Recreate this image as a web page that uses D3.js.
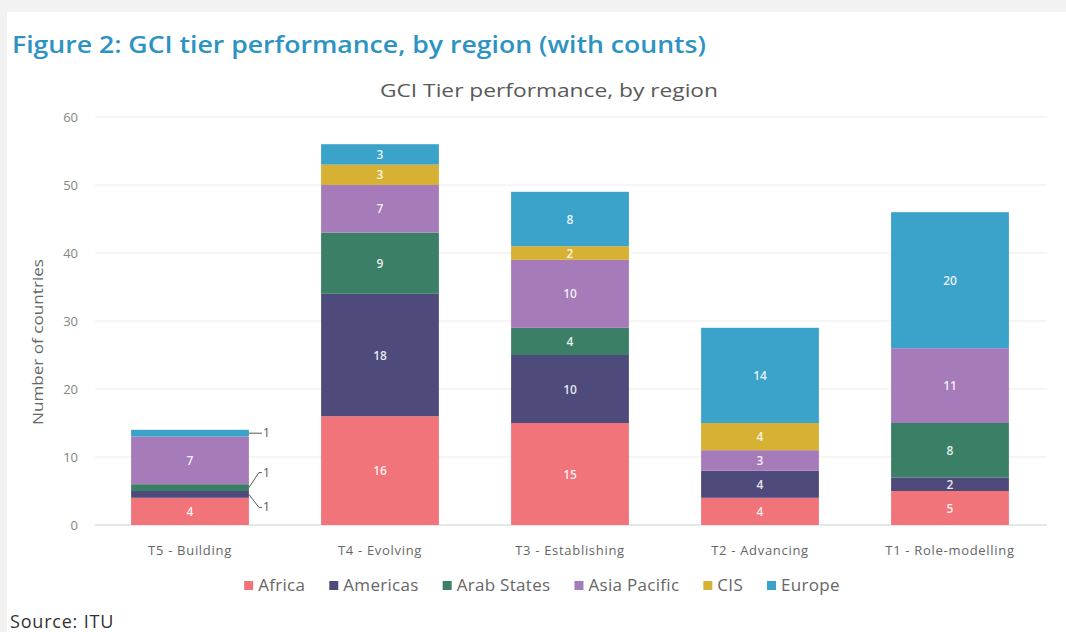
<!DOCTYPE html>
<html>
<head>
<meta charset="utf-8">
<script src="https://cdn.jsdelivr.net/npm/d3@7"></script>
<style>
  body { margin:0; background:#f2f2f2; }
  svg { display:block; font-family: "Open Sans", sans-serif; }
</style>
</head>
<body>
<div id="graph"></div>
<script>
// data
var tiers = ["T5 - Building", "T4 - Evolving", "T3 - Establishing", "T2 - Advancing", "T1 - Role-modelling"];
var regions = ["Africa", "Americas", "Arab States", "Asia Pacific", "CIS", "Europe"];
var africa = [4, 16, 15, 4, 5];
var americas = [1, 18, 10, 4, 2];
var arabStates = [1, 9, 4, 0, 8];
var asiaPacific = [7, 7, 10, 3, 11];
var cis = [0, 3, 2, 4, 0];
var europe = [1, 3, 8, 14, 20];
var yTicks = [0, 10, 20, 30, 40, 50, 60];
var colors = ["#f07479", "#4e4b7c", "#3b7f66", "#a67bb9", "#d6b134", "#3ba2ca"];

var width = 1066, height = 632;
var pLeft = 95, pRight = 1045, pTop = 117, pBottom = 525;

var svg = d3.select("#graph").append("svg").attr("width", width).attr("height", height);
svg.append("rect").attr("x", 7).attr("y", 12).attr("width", width - 7).attr("height", height - 12).attr("fill", "#fff");

// build table
var series = [africa, americas, arabStates, asiaPacific, cis, europe];
var table = tiers.map(function(t, i) {
  var row = { tier: t };
  regions.forEach(function(r, j) { row[r] = series[j][i]; });
  return row;
});
var stacked = d3.stack().keys(regions)(table);

var x = d3.scaleBand().domain(tiers).range([pLeft, pRight]).paddingInner(0.38).paddingOuter(0.19);
var y = d3.scaleLinear().domain([0, 60]).range([pBottom, pTop]);

// titles
svg.append("text").attr("x", 12).attr("y", 53).text("Figure 2: GCI tier performance, by region (with counts)")
  .attr("font-size", 24).attr("font-weight", 600).attr("fill", "#2c93c3")
  .attr("textLength", 694).attr("lengthAdjust", "spacingAndGlyphs");
svg.append("text").attr("x", 549).attr("y", 97).attr("text-anchor", "middle")
  .text("GCI Tier performance, by region").attr("font-size", 19).attr("fill", "#595959")
  .attr("textLength", 338).attr("lengthAdjust", "spacingAndGlyphs");

// grid
svg.append("g").selectAll("line").data(yTicks).enter().append("line")
  .attr("x1", pLeft).attr("x2", pRight + 2)
  .attr("y1", function(d){ return y(d); }).attr("y2", function(d){ return y(d); })
  .attr("stroke", function(d){ return d == 0 ? "#cfcfcf" : "#ececec"; }).attr("stroke-width", 1);

// y axis
var yAxis = d3.axisLeft(y).tickValues(yTicks).tickSize(0).tickPadding(0);
var gy = svg.append("g").attr("transform", "translate(78,0)").call(yAxis);
gy.select(".domain").remove();
gy.selectAll("text").attr("font-size", 13).attr("fill", "#858585").attr("font-family", "'Open Sans', sans-serif");

svg.append("text").attr("transform", "translate(43,342) rotate(-90)").attr("text-anchor", "middle")
  .text("Number of countries").attr("font-size", 15).attr("fill", "#666")
  .attr("textLength", 166).attr("lengthAdjust", "spacingAndGlyphs");

// x axis
var xAxis = d3.axisBottom(x).tickSize(0).tickPadding(0);
var gx = svg.append("g").attr("transform", "translate(0," + (pBottom + 21) + ")").call(xAxis);
gx.select(".domain").remove();
gx.selectAll("text").attr("font-size", 13).attr("fill", "#666").attr("font-family", "'Open Sans', sans-serif")
  .attr("letter-spacing", 0.7);

// bars
var layers = svg.append("g").selectAll("g").data(stacked).enter().append("g")
  .attr("fill", function(d, i){ return colors[i]; });
layers.selectAll("rect").data(function(d){ return d; }).enter().append("rect")
  .attr("x", function(d){ return x(d.data.tier); })
  .attr("y", function(d){ return y(d[1]); })
  .attr("height", function(d){ return y(d[0]) - y(d[1]); })
  .attr("width", x.bandwidth());

// labels
var labels = [];
stacked.forEach(function(s, j) {
  s.forEach(function(d, i) {
    var v = d[1] - d[0];
    if (v > 0) labels.push({ v: v, tier: d.data.tier, mid: (d[0] + d[1]) / 2, j: j, i: i });
  });
});
var inside = labels.filter(function(d){ return !(d.i == 0 && d.v == 1); });
svg.append("g").selectAll("text").data(inside).enter().append("text")
  .attr("x", function(d){ return x(d.tier) + x.bandwidth() / 2; })
  .attr("y", function(d){ return y(d.mid) + 4.5; })
  .attr("text-anchor", "middle").attr("font-size", 12).attr("font-weight", 600)
  .attr("fill", "#fff").attr("fill-opacity", 0.88)
  .text(function(d){ return d.v; });

// outside labels with leader lines for thin T5 segments
var outside = labels.filter(function(d){ return d.i == 0 && d.v == 1; });
var offsets = { 1: 13, 2: -15, 5: 0 };
var outG = svg.append("g");
outside.forEach(function(d) {
  var bx = x(d.tier) + x.bandwidth();
  var by = y(d.mid);
  var ly = by + offsets[d.j];
  outG.append("polyline")
    .attr("points", bx + "," + by + " " + (bx + 10) + "," + ly + " " + (bx + 13) + "," + ly)
    .attr("fill", "none").attr("stroke", "#555").attr("stroke-width", 1);
  outG.append("text").attr("x", bx + 14).attr("y", ly + 4).attr("font-size", 12)
    .attr("fill", "#555").text(d.v);
});

// legend
var leg = svg.append("g");
var lx = 0;
regions.forEach(function(r, i) {
  var g = leg.append("g").attr("transform", "translate(" + lx + ",0)");
  g.append("rect").attr("x", 0).attr("y", -10).attr("width", 9).attr("height", 9).attr("fill", colors[i]);
  var t = g.append("text").attr("x", 14).attr("y", 0).attr("font-size", 17).attr("fill", "#666")
    .attr("letter-spacing", 0.3).text(r);
  lx += 14 + t.node().getComputedTextLength() + 24;
});
lx -= 24;
leg.attr("transform", "translate(" + (542 - lx / 2) + ",591)");

svg.append("text").attr("x", 10).attr("y", 628).text("Source: ITU").attr("font-size", 18).attr("fill", "#333")
  .attr("letter-spacing", 0.8);
</script>
</body>
</html>
